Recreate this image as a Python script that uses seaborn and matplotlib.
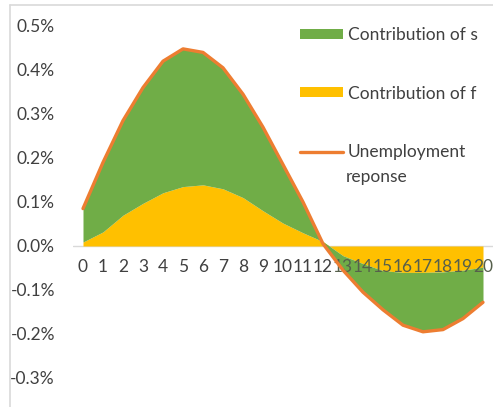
import matplotlib
matplotlib.use("Agg")
import matplotlib.pyplot as plt
from matplotlib.patches import Patch
from matplotlib.lines import Line2D
from matplotlib.ticker import FuncFormatter
import numpy as np
import pandas as pd
import seaborn as sns

# ******************DATA (in %)******************
periods = list(range(21))
contrib_f = [0.009, 0.032, 0.070, 0.097, 0.121, 0.135, 0.139, 0.130, 0.110, 0.080,
             0.052, 0.030, 0.010, -0.022, -0.040, -0.056, -0.060, -0.060, -0.059, -0.055,
             -0.048]
contrib_s = [0.076, 0.158, 0.215, 0.263, 0.299, 0.313, 0.301, 0.275, 0.235, 0.190,
             0.133, 0.070, -0.005, -0.033, -0.065, -0.089, -0.120, -0.135, -0.131, -0.110,
             -0.080]
response = [0.085, 0.190, 0.285, 0.360, 0.420, 0.448, 0.440, 0.405, 0.345, 0.270,
            0.185, 0.100, 0.005, -0.055, -0.105, -0.145, -0.180, -0.195, -0.190, -0.165,
            -0.128]
ytick_vals = [-0.3, -0.2, -0.1, 0.0, 0.1, 0.2, 0.3, 0.4, 0.5]

df = pd.DataFrame({'period': periods, 'f': contrib_f, 's': contrib_s, 'response': response})

# colours (excel defaults)
GREEN = '#70AD47'
YELLOW = '#FFC000'
ORANGE = '#ED7D31'
TXT = '#404040'

sns.set_style("white")
plt.rcParams['font.family'] = ['Lato', 'DejaVu Sans']

W, H = 493, 407
fig = plt.figure(figsize=(W / 100, H / 100), dpi=100)
# axes: x -0.5 at px 73, 20.5 at px 493 ; y top at px 5, bottom at px 407
ax = fig.add_axes([73 / W, 0, 420 / W, 402 / H])
ax.set_xlim(-0.5, 20.5)
ax.set_ylim(-(407 - 246) / 440, (246 - 5) / 440)
ax.set_axisbelow(False)

# stacked areas: f first, s on top
ax.stackplot(df['period'], df['f'], df['s'], colors=[YELLOW, GREEN], lw=0, zorder=1)
ax.axhline(0, color='#d9d9d9', lw=1, zorder=0.8)
sns.lineplot(x='period', y='response', data=df, color=ORANGE, lw=2.4, ax=ax, zorder=3)

for side in ['top', 'right', 'left', 'bottom']:
    ax.spines[side].set_visible(False)
ax.spines['bottom'].set_position(('data', 0))

ax.set_xticks(periods)
ax.set_xticklabels([str(p) for p in periods])
ax.set_yticks(ytick_vals)
ax.yaxis.set_major_formatter(FuncFormatter(lambda v, pos: f"{v:.1f}%"))
ax.tick_params(axis='x', length=0, pad=9, labelsize=12.5, colors=TXT)
ax.tick_params(axis='y', length=0, pad=13, labelsize=12.5, colors=TXT)
for lab in ax.get_xticklabels():
    if int(lab.get_text()) >= 13:
        lab.set_color('#56604c')
ax.set_xlabel('')
ax.set_ylabel('')

# legend
handles = [Patch(facecolor=GREEN, edgecolor='none'),
           Patch(facecolor=YELLOW, edgecolor='none'),
           Line2D([0], [0], color=ORANGE, lw=2.4)]
labels = ['Contribution of s', 'Contribution of f', 'Unemployment']
leg = ax.legend(handles, labels, loc='upper left', bbox_to_anchor=(300 / W, 1 - 27 / H),
                bbox_transform=fig.transFigure, frameon=False, fontsize=12.5,
                handlelength=2.5, handleheight=0.5, handletextpad=0.25,
                labelspacing=2.45, borderpad=0, borderaxespad=0)
for t in leg.get_texts():
    t.set_color(TXT)
fig.text(346 / W, 1 - 177 / H, 'reponse', fontsize=12.5, color=TXT, va='center', ha='left')

# chart border (light grey frame, cut at right/bottom)
fig.add_artist(Line2D([10 / W, 10 / W], [0, 1 - 5 / H], color='#d9d9d9', lw=1.2,
                      transform=fig.transFigure))
fig.add_artist(Line2D([10 / W, 1], [1 - 5 / H, 1 - 5 / H], color='#d9d9d9', lw=1.2,
                      transform=fig.transFigure))

fig.savefig('out.png', dpi=100)
